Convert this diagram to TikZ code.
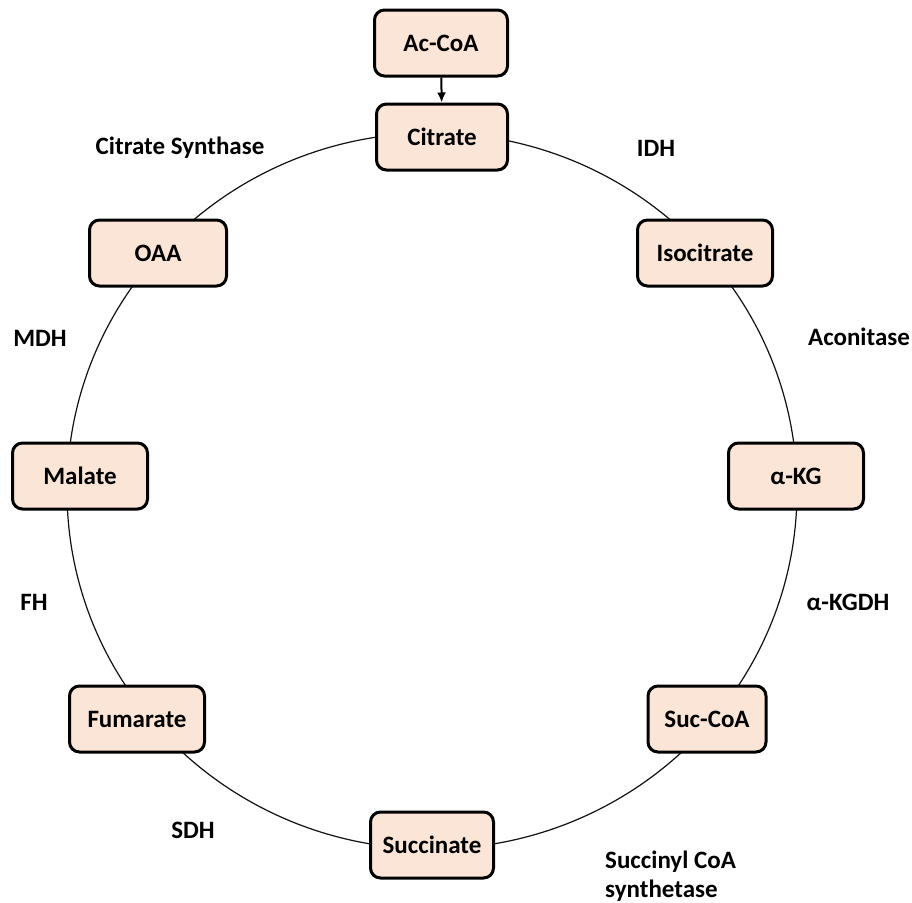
\documentclass[tikz,border=0pt]{standalone}
\usepackage{fontspec}
\setmainfont{Carlito}
\usetikzlibrary{arrows.meta,positioning}
\definecolor{tcaFill}{HTML}{FBE5D6}
\definecolor{tcaLine}{HTML}{111111}
\tikzset{
  metab/.style={
    draw=black, line width=3pt, rounded corners=10pt, fill=tcaFill,
    minimum width=135pt, minimum height=66pt, inner sep=0pt,
    font=\fontsize{25}{29}\selectfont\bfseries
  },
  enzyme/.style={font=\fontsize{25}{29}\selectfont\bfseries, inner sep=0pt},
  ring/.style={line width=1.2pt, tcaLine},
  feed/.style={-{Latex[length=10pt,width=9pt]}, line width=2pt}
}

\begin{document}
\begin{tikzpicture}[x=1pt,y=-1pt]
  \useasboundingbox (0,0) rectangle (912,902);
  % cycle ring
  \draw[ring] (432,491) ellipse [x radius=365pt, y radius=358pt];
  % metabolites
  \node[metab, minimum width=133pt] (acoa) at (441,43) {Ac-CoA};
  \node[metab, minimum width=131pt] (cit) at (442,137) {Citrate};
  \node[metab] (icit) at (705,253) {Isocitrate};
  \node[metab] (akg) at (796,476) {α-KG};
  \node[metab, minimum width=118pt] (sucoa) at (707,719) {Suc-CoA};
  \node[metab, minimum width=123pt] (succ) at (432,845) {Succinate};
  \node[metab] (fum) at (137,719) {Fumarate};
  \node[metab] (mal) at (80,476) {Malate};
  \node[metab, minimum width=137pt] (oaa) at (158,253) {OAA};
  \draw[feed] (acoa) -- (cit);
  % enzymes
  \node[enzyme] (cs) at (180,148) {Citrate Synthase};
  \node[enzyme] (idh) at (656,148) {IDH};
  \node[enzyme] (acon) at (859,337) {Aconitase};
  \node[enzyme] (akgdh) at (848,602) {α-KGDH};
  \node[enzyme, anchor=west, align=left] (scs) at (605,876) {Succinyl CoA\\synthetase};
  \node[enzyme] (sdh) at (193,830) {SDH};
  \node[enzyme] (fh) at (34,602) {FH};
  \node[enzyme] (mdh) at (40,338) {MDH};
\end{tikzpicture}
\end{document}
